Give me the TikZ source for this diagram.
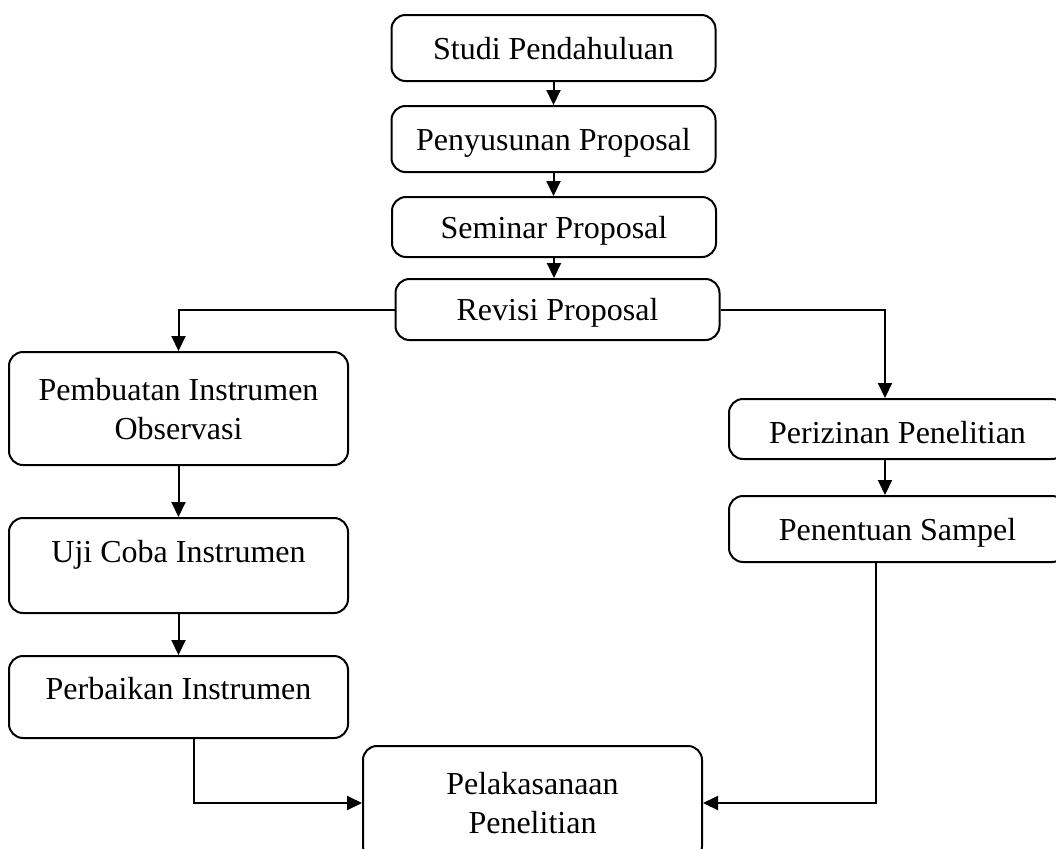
\documentclass[tikz,border=0pt]{standalone}
\usepackage{fontspec}
\setmainfont{Liberation Serif}
\usepackage{tikz}
\usetikzlibrary{arrows.meta}

\tikzset{
	box/.style={draw, line width=1pt, rounded corners=7pt, align=center, inner sep=2pt,
		text height=11pt, text depth=0pt, font=\fontsize{16}{19.5}\selectfont},
	narrowbox/.style={box, minimum width=162pt},
	widebox/.style={box, minimum width=169.5pt},
	twoline/.style={text height=30.5pt, text depth=0pt}
}

\begin{document}
\begin{tikzpicture}[x=0.5pt, y=-0.5pt, line width=1pt, >={Triangle[length=7.5pt,width=7pt]}]
				\clip (0,0) rectangle (1056,848);

				\node[narrowbox, minimum height=33pt] (studi) at (553.5,48) {Studi Pendahuluan};
				\node[narrowbox, minimum height=33pt] (penyusunan) at (553.5,139) {Penyusunan Proposal};
				\node[narrowbox, minimum height=30pt] (seminar) at (554,227) {Seminar Proposal};
				\node[narrowbox, minimum height=30.5pt] (revisi) at (557.5,309.5) {Revisi Proposal};

				\node[widebox, twoline, minimum height=56.5pt] (pembuatan) at (178.5,408.5) {Pembuatan Instrumen\\Observasi};
				\node[widebox, minimum height=47.5pt, text depth=13.9pt] (uji) at (178.5,565.5) {Uji Coba Instrumen};
				\node[widebox, minimum height=41pt, text depth=8.4pt] (perbaikan) at (178.5,697) {Perbaikan Instrumen};

				\node[box, minimum width=168.5pt, minimum height=30pt, text height=14pt] (perizinan) at (897.5,429) {Perizinan Penelitian};
				\node[box, minimum width=168.5pt, minimum height=33pt] (penentuan) at (897.5,529) {Penentuan Sampel};

				\node[widebox, twoline, minimum height=57pt] (pelaksanaan) at (532.5,803) {Pelakasanaan\\Penelitian};

				\draw[->] (studi.south) -- (penyusunan.north);
				\draw[->] (penyusunan.south) -- (penyusunan.south |- seminar.north);
				\draw[->] (seminar.south) -- (seminar.south |- revisi.north);

				\draw[->] (revisi.west) -| (pembuatan.north);
				\draw[->] (revisi.east) -| ([xshift=-6.25pt]perizinan.north);

				\draw[->] (pembuatan.south) -- (uji.north);
				\draw[->] (uji.south) -- (perbaikan.north);
				\draw[->] ([xshift=-6.25pt]perizinan.south) -- ([xshift=-6.25pt]penentuan.north);

				\draw[->] ([xshift=7.75pt]perbaikan.south) |- (pelaksanaan.west);
				\draw[->] ([xshift=-10.75pt]penentuan.south) |- (pelaksanaan.east);
			\end{tikzpicture}
\end{document}
